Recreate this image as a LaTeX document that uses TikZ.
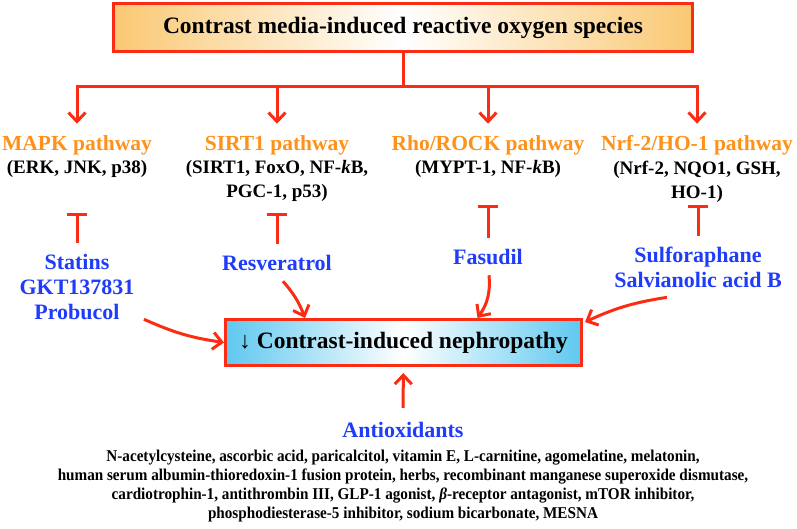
\documentclass[tikz,border=0pt]{standalone}
\usepackage{fontspec}
\setmainfont{Liberation Serif}
\usetikzlibrary{arrows.meta,positioning,calc}

\definecolor{rosred}{RGB}{250,45,20}
\definecolor{pathorange}{RGB}{255,145,25}
\definecolor{drugblue}{RGB}{30,60,250}
\definecolor{boxorange}{RGB}{250,200,115}
\definecolor{boxblue}{RGB}{95,200,240}

\begin{document}
\begin{tikzpicture}[x=1pt,y=-1pt,line width=3pt,
  >={Straight Barb[length=9pt,width=17pt]},
  every node/.style={inner sep=1pt, align=center, font=\bfseries},
  pathtitle/.style={text=pathorange, font=\bfseries\fontsize{21.5}{24}\selectfont},
  pathsub/.style={font=\bfseries\fontsize{19}{24}\selectfont},
  drug/.style={text=drugblue, font=\bfseries\fontsize{22}{25}\selectfont},
  link/.style={draw=rosred, ->},
  inhib/.style={draw=rosred, -{Bar[width=20pt]}, shorten <=9pt}]
\useasboundingbox (0,0) rectangle (797,529);

% ROS box
\node[rectangle, draw=rosred, left color=boxorange, right color=boxorange, middle color=white,
  minimum width=579pt, minimum height=48pt, font=\bfseries\fontsize{23.5}{26}\selectfont, name=ros]
  at (403,27.5) {Contrast media-induced reactive oxygen species};
\coordinate (split) at (403,87);

% pathways
\node[pathtitle, name=mapk] at (77,145) {MAPK pathway};
\node[pathsub, below=1pt of mapk, name=mapkgenes] {(ERK, JNK, p38)};
\node[pathtitle, name=sirt] at (277,145) {SIRT1 pathway};
\node[pathsub, below=1pt of sirt, name=sirtgenes] {(SIRT1, FoxO, NF-\textit{k}B,\\PGC-1, p53)};
\node[pathtitle, name=rho] at (488,145) {Rho/ROCK pathway};
\node[pathsub, below=1pt of rho, name=rhogenes] {(MYPT-1, NF-\textit{k}B)};
\node[pathtitle, name=nrf] at (697,145) {Nrf-2/HO-1 pathway};
\node[pathsub, below=1pt of nrf, name=nrfgenes] {(Nrf-2, NQO1, GSH,\\HO-1)};

% arrows from ROS
\draw[rosred] (ros.south) -- (split);
\draw[link, shorten >=9pt] (split) -| (mapk);
\draw[link, shorten >=9pt] (split) -| (sirt);
\draw[link, shorten >=9pt] (split) -| (rho);
\draw[link, shorten >=9pt] (split) -| (nrf);

% drugs
\node[drug, name=statins] at (77,287) {Statins\\GKT137831\\Probucol};
\node[drug, name=resv] at (277,263) {Resveratrol};
\node[drug, name=fasudil] at (488,257) {Fasudil};
\node[drug, name=sulfo] at (698,267.5) {Sulforaphane\\Salvianolic acid B};

% inhibition bars
\coordinate (mapkbar) at (77,213);
\coordinate (sirtbar) at (277,213);
\coordinate (rhobar) at (488,205);
\coordinate (nrfbar) at (698,205);
\draw[inhib] (statins.north) -- (mapkbar);
\draw[inhib] (resv.north) -- (sirtbar);
\draw[inhib] (fasudil.north) -- (rhobar);
\draw[inhib] (sulfo.north) -- (nrfbar);

% CIN box
\node[rectangle, draw=rosred, left color=boxblue, right color=boxblue, middle color=white,
  minimum width=356pt, minimum height=46pt, font=\bfseries\fontsize{23.5}{26}\selectfont, name=cin]
  at (403.5,342.5) {{\mdseries ↓} Contrast-induced nephropathy};

% arrows into CIN
\draw[link] ([shift={(7,-3)}]statins.south east) to[bend right=8] (cin.west);
\draw[link] ([shift={(6,8)}]resv.south) to[bend left=10] ([shift={(81,0)}]cin.north west);
\draw[link] ([shift={(1,8)}]fasudil.south) to[bend left=20] ([shift={(74,0)}]cin.north);
\draw[link] ([shift={(-31,7)}]sulfo.south) to[bend right=8] ([shift={(2,4)}]cin.north east);

% antioxidants
\node[drug, name=antiox] at (403,430) {Antioxidants};
\draw[link, shorten <=12pt, shorten >=6pt] (antiox) -- (cin);
\node[font=\bfseries\fontsize{16.5}{19}\selectfont\addfontfeature{FakeStretch=0.92}, name=agents] at (403,486.5)
  {N-acetylcysteine, ascorbic acid, paricalcitol, vitamin E, L-carnitine, agomelatine, melatonin,\\
   human serum albumin-thioredoxin-1 fusion protein, herbs, recombinant manganese superoxide dismutase,\\
   cardiotrophin-1, antithrombin III, GLP-1 agonist, \textit{β}-receptor antagonist, mTOR inhibitor,\\
   phosphodiesterase-5 inhibitor, sodium bicarbonate, MESNA};
\end{tikzpicture}
\end{document}
